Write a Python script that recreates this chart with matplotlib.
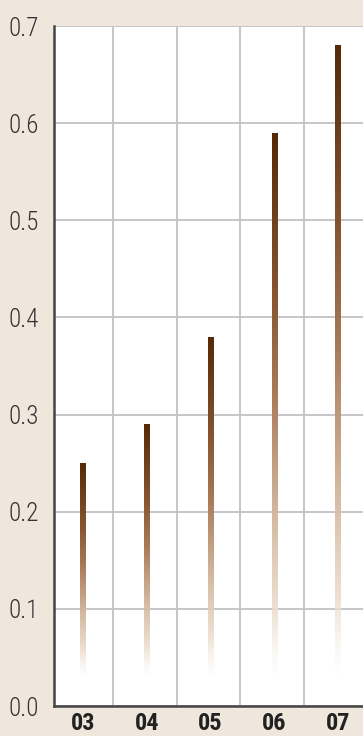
import numpy as np
import matplotlib; matplotlib.use('Agg')
import matplotlib.pyplot as plt
from matplotlib.colors import LinearSegmentedColormap

years = ['03', '04', '05', '06', '07']
values = [0.25, 0.29, 0.38, 0.59, 0.68]
y_ticks = [0.0, 0.1, 0.2, 0.3, 0.4, 0.5, 0.6, 0.7]

BG = '#efe6dc'
GRID = '#c2c2c6'
SPINE = '#444444'
FONT = ['Roboto Condensed', 'DejaVu Sans']

# brown fading to transparent toward the base of each bar
fade = LinearSegmentedColormap.from_list('fade', [
    (0.00, (0.96, 0.93, 0.90, 0.0)),
    (0.12, (0.93, 0.87, 0.81, 0.9)),
    (0.30, (0.83, 0.72, 0.62, 1.0)),
    (0.52, (0.66, 0.48, 0.35, 1.0)),
    (0.70, (0.53, 0.34, 0.19, 1.0)),
    (1.00, (0.34, 0.16, 0.03, 1.0)),
])
base = 0.03
width = 0.08

fig = plt.figure(figsize=(3.63, 7.36), dpi=100, facecolor=BG)
ax = fig.add_axes([54/363, 30/736, 1 - 54/363, 680/736])
ax.set_facecolor('white')

x = np.arange(len(years))
grad = np.linspace(0, 1, 256).reshape(-1, 1)
for xi, v in zip(x, values):
    ax.imshow(grad, cmap=fade, origin='lower', aspect='auto',
              extent=[xi - width/2, xi + width/2, base, v], zorder=3,
              interpolation='bilinear')

ax.set_xlim(-0.455, 4.392)
ax.set_ylim(0, 0.7)
ax.set_yticks(y_ticks)
ax.set_yticklabels([f'{t:.1f}' for t in y_ticks], family=FONT, fontsize=18,
                   fontweight='light', color='#333333')
ax.set_xticks(x)
ax.set_xticklabels(years, family=FONT, fontsize=17.5, fontweight='bold',
                   color='#222222')
# column separators sit slightly left of the midpoints
ax.set_xticks(x[:-1] + 0.47, minor=True)
ax.tick_params(axis='y', length=0, pad=11)
ax.tick_params(axis='x', which='both', length=0, pad=4)
ax.grid(True, axis='y', color=GRID, lw=1.3, zorder=1)
ax.grid(True, axis='x', which='minor', color=GRID, lw=1.3, zorder=1)
ax.grid(False, axis='x', which='major')
ax.set_axisbelow(True)
for s in ['top', 'right']:
    ax.spines[s].set_visible(False)
for s in ['left', 'bottom']:
    ax.spines[s].set_color(SPINE)
    ax.spines[s].set_linewidth(1.8)

fig.savefig('out.png', dpi=100, facecolor=BG)
